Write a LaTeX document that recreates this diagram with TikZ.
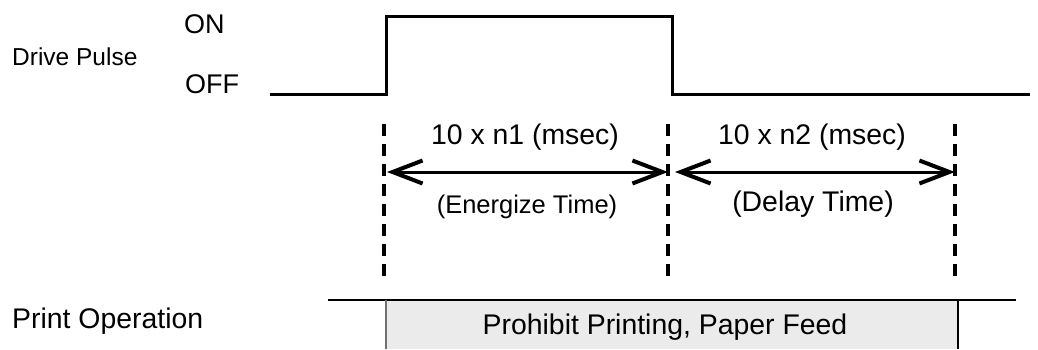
\documentclass[tikz,border=0pt]{standalone}
\usepackage{fontspec}
\setmainfont{Liberation Sans}
\usetikzlibrary{arrows.meta}
\definecolor{boxfill}{HTML}{EBEBEB}
\definecolor{edgegray}{HTML}{707070}
\begin{document}
\begin{tikzpicture}[x=1pt,y=-1pt,
  lbl/.style={inner sep=0pt, anchor=base},
  lblw/.style={inner sep=0pt, anchor=base west},
  pulse/.style={line width=3pt, line join=miter},
  guide/.style={line width=4.5pt, dash pattern=on 12pt off 8pt},
  barb/.tip={Straight Barb[length=30pt,width=23pt,line width=4pt]},
  span/.style={line width=3pt, barb-barb},
  rowline/.style={line width=1.5pt},
  fbig/.style={font=\fontsize{28.4}{30}\selectfont},
  fmid/.style={font=\fontsize{27}{29}\selectfont},
  fsmall/.style={font=\fontsize{24.5}{26}\selectfont},
  fener/.style={font=\fontsize{25.5}{27}\selectfont}]
\useasboundingbox (0,0) rectangle (1038,349);

% labels
\node[lblw,fsmall] (drive) at (12,65) {Drive Pulse};
\node[lblw,fmid] (on) at (184,33) {ON};
\node[lblw,fmid] (off) at (185,93) {OFF};
\node[lblw,fbig] (printop) at (12,328) {Print Operation};

% pulse waveform
\coordinate (p0) at (270,94);
\coordinate (p1) at (386,94);
\coordinate (p2) at (386,16);
\coordinate (p3) at (672,16);
\coordinate (p4) at (672,94);
\coordinate (p5) at (1030,94);
\draw[pulse] (p0) -- (p1) -- (p2) -- (p3) -- (p4) -- (p5);

% dashed guides
\coordinate (d1t) at (384,124); \coordinate (d1b) at (384,280);
\coordinate (d2t) at (668,124); \coordinate (d2b) at (668,280);
\coordinate (d3t) at (955,124); \coordinate (d3b) at (955,280);
\draw[guide] (d1t) -- (d1b);
\draw[guide] (d2t) -- (d2b);
\draw[guide] (d3t) -- (d3b);

% time spans
\coordinate (a1l) at (387,172); \coordinate (a1r) at (668,172);
\coordinate (a2l) at (675,172); \coordinate (a2r) at (955,172);
\draw[span] (a1l) -- (a1r);
\draw[span] (a2l) -- (a2r);

\node[lbl,fbig] (t1) at (525,144) {10 x n1 (msec)};
\node[lbl,fener] (e1) at (527,213) {(Energize Time)};
\node[lbl,fbig] (t2) at (812,144) {10 x n2 (msec)};
\node[lbl,fbig] (e2) at (813,211) {(Delay Time)};

% print operation row
\fill[boxfill] (386,300) rectangle (958,349);
\draw[rowline] (328,300) -- (1016,300);
\draw[rowline,edgegray] (386,300) -- (386,349);
\draw[rowline] (958,300) -- (958,349);
\node[lbl,fbig] (prohibit) at (665,334) {Prohibit Printing, Paper Feed};
\end{tikzpicture}
\end{document}
